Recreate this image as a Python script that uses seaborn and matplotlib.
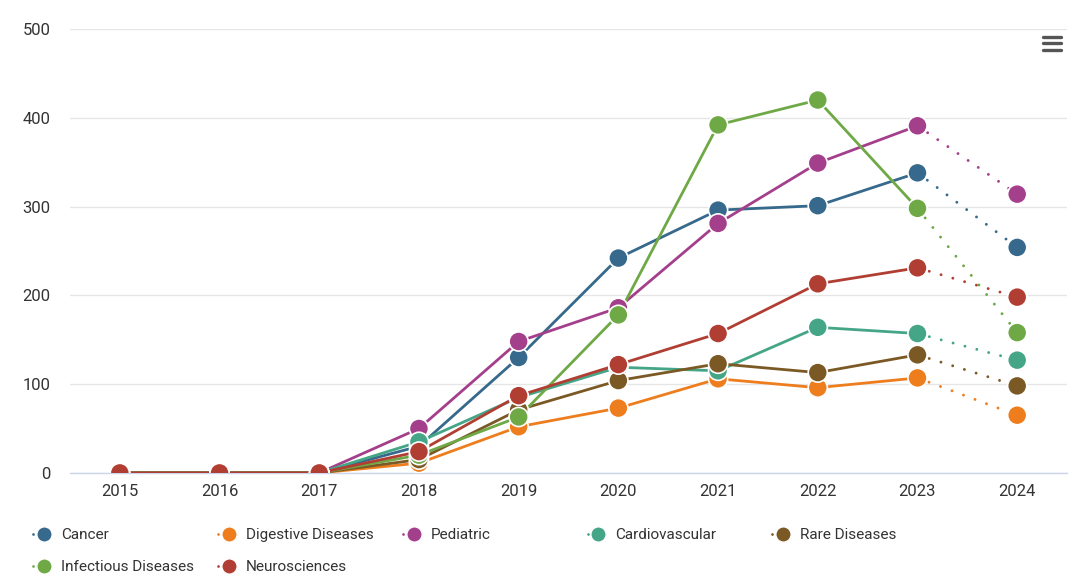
import matplotlib
matplotlib.use("Agg")
import matplotlib.pyplot as plt
from matplotlib.lines import Line2D
import seaborn as sns
import pandas as pd

years = [2015, 2016, 2017, 2018, 2019, 2020, 2021, 2022, 2023, 2024]
series_names = ["Cancer", "Digestive Diseases", "Pediatric", "Cardiovascular",
                "Rare Diseases", "Infectious Diseases", "Neurosciences"]
cancer = [0, 0, 0, 30, 130, 242, 296, 301, 338, 254]
digestive = [0, 0, 0, 11, 52, 73, 106, 96, 107, 65]
pediatric = [0, 0, 0, 50, 148, 186, 281, 349, 391, 314]
cardiovascular = [0, 0, 0, 35, 85, 119, 115, 164, 157, 127]
rare = [0, 0, 0, 15, 71, 104, 123, 113, 133, 98]
infectious = [0, 0, 0, 20, 63, 178, 392, 420, 298, 158]
neuro = [0, 0, 0, 24, 87, 122, 157, 213, 231, 198]
values = [cancer, digestive, pediatric, cardiovascular, rare, infectious, neuro]
colors = ["#36698c", "#ee7d1e", "#a43f8b", "#44a587", "#7b5925", "#6fa946", "#b13e33"]
yticks = [0, 100, 200, 300, 400, 500]

rows = []
for name, vals in zip(series_names, values):
    for y, v in zip(years, vals):
        rows.append({"year": y, "value": v, "series": name})
df = pd.DataFrame(rows)
solid = df[df["year"] <= 2023]
dotted = df[df["year"] >= 2023]
palette = dict(zip(series_names, colors))

sns.set_theme(style="white")
plt.rcParams["font.family"] = ["Roboto", "DejaVu Sans"]

fig = plt.figure(figsize=(10.8, 5.86), dpi=100)
ax = fig.add_axes([0.0648, 0.193, 0.9232, 0.7575])

sns.lineplot(data=dotted, x="year", y="value", hue="series", palette=palette,
             hue_order=series_names, linewidth=2.1, linestyle=(0, (0.01, 4.2)),
             dash_capstyle="round", legend=False, ax=ax, zorder=2)
sns.lineplot(data=solid, x="year", y="value", hue="series", palette=palette,
             hue_order=series_names, linewidth=2, legend=False, ax=ax, zorder=3)
sns.scatterplot(data=df, x="year", y="value", hue="series", palette=palette,
                hue_order=series_names, s=190, edgecolor="white", linewidth=1.2,
                legend=False, ax=ax, zorder=4)

ax.set_xlim(2014.5, 2024.5)
ax.set_ylim(0, 500)
ax.set_xticks(years)
ax.set_xticklabels([str(y) for y in years])
ax.set_yticks(yticks)
ax.set_yticklabels([str(t) for t in yticks])
ax.set_xlabel("")
ax.set_ylabel("")
ax.grid(axis="y", color="#e6e6e6", linewidth=1)
ax.set_axisbelow(True)
for s in ["top", "right", "left"]:
    ax.spines[s].set_visible(False)
ax.spines["bottom"].set_color("#ccd6eb")
ax.spines["bottom"].set_linewidth(1)
ax.tick_params(axis="both", length=0, labelsize=12, colors="#333333")
ax.tick_params(axis="x", pad=8)
ax.tick_params(axis="y", pad=14)
for lbl in ax.get_yticklabels():
    lbl.set_horizontalalignment("right")

# legend entries laid out in a grid
positions = [(0.031, 0.087), (0.202, 0.087), (0.373, 0.087), (0.544, 0.087),
             (0.715, 0.087), (0.031, 0.032), (0.202, 0.032)]
for name, col, pos in zip(series_names, colors, positions):
    h = Line2D([], [], color=col, marker="o", markersize=11, markeredgecolor="white",
               markeredgewidth=1, linestyle=(0, (0.01, 3.0)), linewidth=2,
               dash_capstyle="round")
    fig.legend(handles=[h], labels=[name], loc="center left", bbox_to_anchor=pos,
               frameon=False, fontsize=11, handlelength=1.4, handletextpad=0.4,
               labelcolor="#333333", borderaxespad=0, borderpad=0)

# menu icon
for yy in [0.915, 0.926, 0.937]:
    fig.add_artist(Line2D([0.966, 0.982], [yy, yy], color="#555555",
                          linewidth=2.4, solid_capstyle="round",
                          transform=fig.transFigure))

fig.savefig("out.png", dpi=100)
